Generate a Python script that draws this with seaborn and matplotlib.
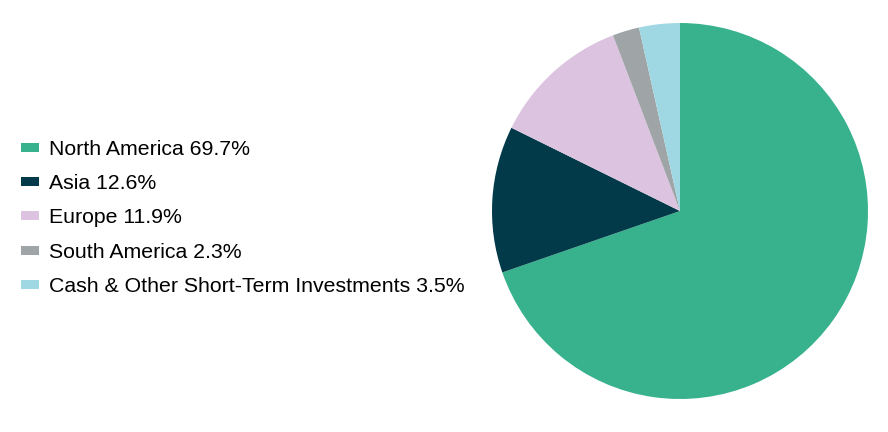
import matplotlib
matplotlib.use('Agg')
import matplotlib.pyplot as plt
import seaborn as sns
from matplotlib.patches import Patch

# Regions and their shares of the portfolio (%)
regions = ['North America', 'Asia', 'Europe', 'South America',
           'Cash & Other Short-Term Investments']
shares = [69.7, 12.6, 11.9, 2.3, 3.5]
colors = ['#38B28D', '#023A4A', '#DCC3E0', '#9FA4A6', '#9FD8E3']

sns.set_theme(style='white')
plt.rcParams['font.family'] = ['Liberation Sans', 'DejaVu Sans']

fig = plt.figure(figsize=(8.88, 4.32), dpi=100)

# Pie on the right
ax = fig.add_axes([(680 - 188) / 888, (432 - 399) / 432, 376 / 888, 376 / 432])
ax.pie(shares, colors=colors, startangle=90, counterclock=False,
       wedgeprops={'linewidth': 0})
ax.set_xlim(-1, 1)
ax.set_ylim(-1, 1)
ax.set_aspect('equal')
ax.axis('off')

# Legend on the left
labels = ['{} {}%'.format(r, s) for r, s in zip(regions, shares)]
handles = [Patch(facecolor=c, edgecolor='none') for c in colors]
fig.legend(handles, labels, loc='center left',
           bbox_to_anchor=(21 / 888, 1 - 218 / 432),
           frameon=False, fontsize=15.3, labelcolor='black',
           handlelength=0.85, handleheight=0.28,
           handletextpad=0.47, labelspacing=0.72, borderpad=0,
           borderaxespad=0)

plt.savefig('out.png', dpi=100)
